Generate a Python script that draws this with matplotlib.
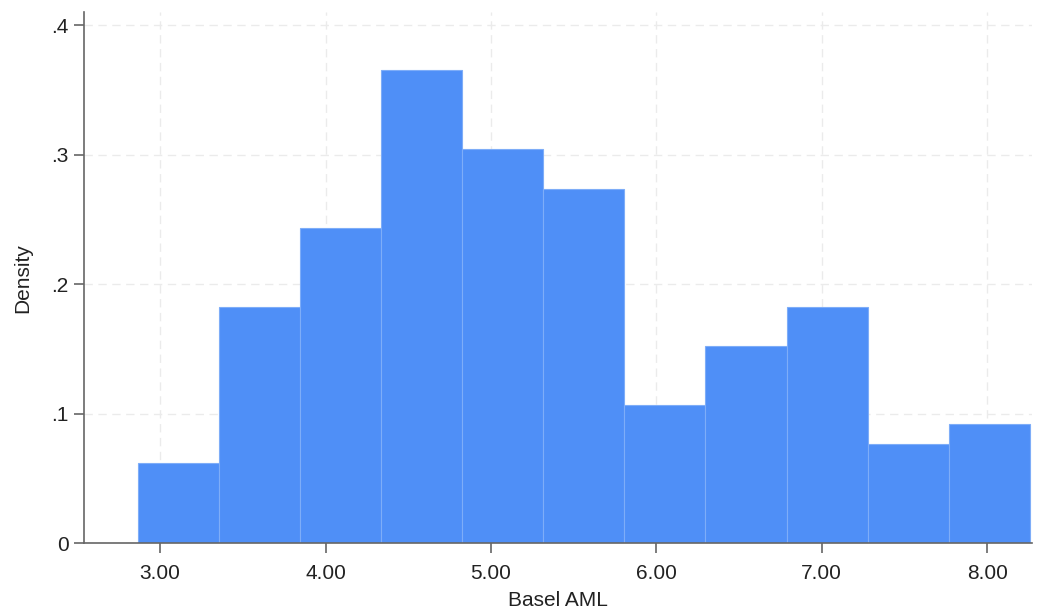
import numpy as np
import matplotlib.pyplot as plt
from matplotlib.ticker import FuncFormatter

# histogram of Basel AML
bin_start = 2.867
bin_width = 0.49
density = [0.0617, 0.1827, 0.243, 0.3655, 0.3046, 0.2737,
           0.1064, 0.1519, 0.1827, 0.0763, 0.0918]
x_ticks = [3, 4, 5, 6, 7, 8]
y_ticks = [0, 0.1, 0.2, 0.3, 0.4]

plt.rcParams['font.family'] = ['Liberation Sans', 'DejaVu Sans']

fig = plt.figure(figsize=(10.37, 6.13), dpi=100)
ax = fig.add_axes([0.081, 0.114, 0.914, 0.866])

left = bin_start + bin_width * np.arange(len(density))
ax.bar(left, density, width=bin_width, align='edge', color='#4f8ff7',
       edgecolor='#7eadf8', linewidth=0.8, zorder=2)

ax.set_xlim(2.54, 8.27)
ax.set_ylim(0, 0.41)
ax.set_xticks(x_ticks)
ax.set_yticks(y_ticks)
ax.xaxis.set_major_formatter(FuncFormatter(lambda v, p: f'{v:.2f}'))
ax.yaxis.set_major_formatter(
    FuncFormatter(lambda v, p: '0' if v == 0 else f'{v:.1f}'.lstrip('0')))

ax.grid(True, color='#ebebeb', linestyle=(0, (6, 4)), linewidth=1, zorder=0)
for s in ['top', 'right']:
    ax.spines[s].set_visible(False)
for s in ['left', 'bottom']:
    ax.spines[s].set_color('#666666')
    ax.spines[s].set_linewidth(1.2)
ax.tick_params(colors='#666666', labelcolor='#222222', labelsize=15,
               length=7, width=1.2, pad=4)
ax.tick_params(axis='x', pad=8)

ax.set_xlabel('Basel AML', fontsize=15, color='#222222', labelpad=6)
ax.set_ylabel('Density', fontsize=15, color='#222222', labelpad=14)

fig.savefig('out.png', dpi=100)
